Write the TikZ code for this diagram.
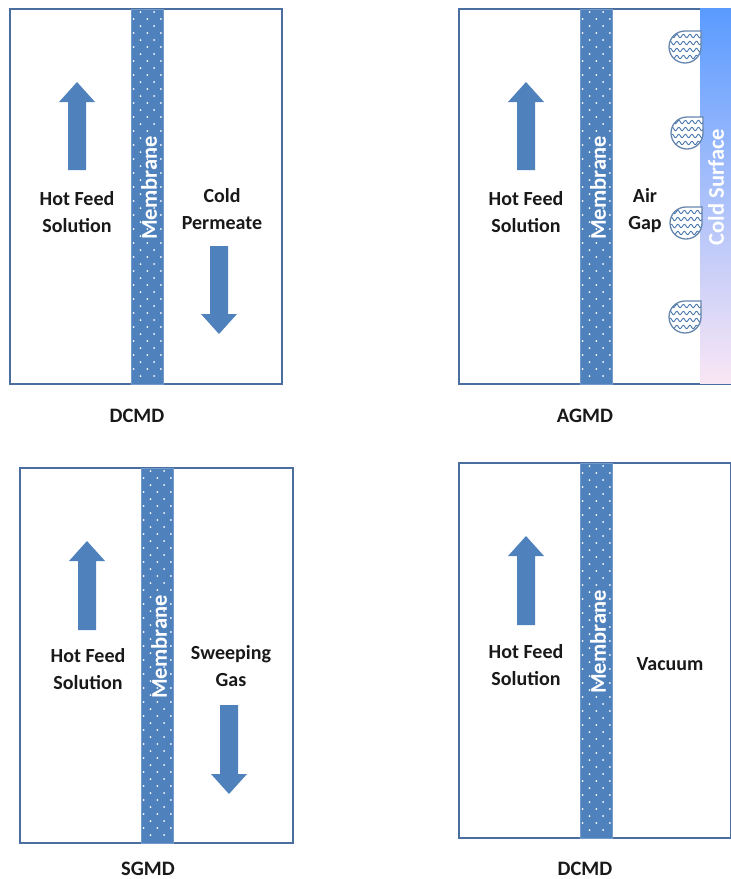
\documentclass[tikz,border=0pt]{standalone}
\usepackage{fontspec}
\setmainfont{Carlito}
\usetikzlibrary{arrows.meta}
\definecolor{memblue}{HTML}{4F81BD}
\definecolor{edgeblue}{HTML}{4A6F9E}
\definecolor{dropblue}{HTML}{4A78B0}
\tikzset{
  x=1pt,y=-1pt,
  panelbox/.style={draw=edgeblue,line width=1.3pt},
  membar/.style={fill=memblue,draw=memblue!80!white,line width=.6pt},
  lab/.style={inner sep=0pt,align=center,font=\fontsize{20}{27}\selectfont\bfseries,text=black!90},
  caption/.style={inner sep=0pt,font=\fontsize{20.5}{22}\selectfont\bfseries,text=black!90},
  memtext/.style={inner sep=0pt,rotate=90,text=white,font=\fontsize{22.5}{24}\selectfont\bfseries},
  flowarrow/.style={fill=memblue,draw=none},
}
% up arrow: x, tail y, tip y
\newcommand{\uparr}[3]{\fill[flowarrow] (#1-9,#2) -- (#1-9,#3+20) -- (#1-18,#3+20) -- (#1,#3) -- (#1+18,#3+20) -- (#1+9,#3+20) -- (#1+9,#2) -- cycle;}
% down arrow: x, tail y, tip y
\newcommand{\downarr}[3]{\fill[flowarrow] (#1-9,#2) -- (#1-9,#3-20) -- (#1-18,#3-20) -- (#1,#3) -- (#1+18,#3-20) -- (#1+9,#3-20) -- (#1+9,#2) -- cycle;}
% membrane: name, left x, top y
\newcommand{\membr}[3]{%
  \fill[membar] (#2,#3) rectangle (#2+32,#3+375);
  \foreach \r in {0,...,52}{%
    \pgfmathsetmacro{\yy}{#3+3+7*\r}
    \pgfmathtruncatemacro{\oddrow}{mod(\r,2)}
    \ifnum\oddrow=0
      \foreach \c in {9.5,23.2}{\fill[white] (#2+\c,\yy) circle[radius=1];}
    \else
      \foreach \c in {2.7,16.4,29.8}{\fill[white] (#2+\c,\yy) circle[radius=1];}
    \fi
  }
  \node[memtext] (#1) at (#2+18,#3+179) {Membrane};
}
% droplet: name, cx, cy
\newcommand{\dropl}[3]{%
  \begin{scope}
    \path[clip] (#2+16,#3-16) -- (#2+16,#3) arc[start angle=0,end angle=270,radius=16] -- cycle;
    \fill[white] (#2-17,#3-17) rectangle (#2+17,#3+17);
    \foreach \k in {-11,-4,3,10}{%
      \draw[dropblue,line width=.9pt] plot[domain=-18:18,samples=50,smooth] (#2+\x,{#3+\k+1.7*sin(\x*55)});
    }
  \end{scope}
  \draw[edgeblue!85!white,line width=1.3pt] (#2+16,#3-16) -- (#2+16,#3) arc[start angle=0,end angle=270,radius=16] -- cycle;
  \coordinate (#1) at (#2,#3);
}
\begin{document}
\begin{tikzpicture}
\useasboundingbox (0,0) rectangle (731,879);
% DCMD
\draw[panelbox] (10,9) rectangle (282,384);
\membr{m1}{131}{9}
\uparr{77}{170}{82}
\downarr{219}{246}{334}
\node[lab] (hot1) at (77,212) {Hot Feed\\Solution};
\node[lab] (cold1) at (222,209) {Cold\\Permeate};
\node[caption] (cap1) at (137,416) {DCMD};
% AGMD
\draw[panelbox] (459,9) rectangle (731,384);
\fill[top color={rgb,255:red,90;green,155;blue,255},bottom color={rgb,255:red,250;green,230;blue,245}] (700,8) rectangle (731,383.4);
\membr{m2}{580}{9}
\uparr{526}{170}{82}
\node[lab] (hot2) at (526,212) {Hot Feed\\Solution};
\node[lab] (air) at (645,211) {Air\\Gap};
\node[memtext] (surf) at (716,187) {Cold Surface};
\dropl{d1}{685}{47}
\dropl{d2}{687}{133}
\dropl{d3}{686}{223}
\dropl{d4}{685}{317}
\node[caption] (cap2) at (585,416) {AGMD};
% SGMD
\draw[panelbox] (20,468) rectangle (293,843);
\membr{m3}{141}{468}
\uparr{87}{630}{541}
\downarr{229}{705}{794}
\node[lab] (hot3) at (88,669.5) {Hot Feed\\Solution};
\node[lab] (gas) at (231,666.5) {Sweeping\\Gas};
\node[caption] (cap3) at (148,868.5) {SGMD};
% Vacuum
\draw[panelbox] (459,463) rectangle (731,838);
\membr{m4}{580}{463}
\uparr{526}{625}{536}
\node[lab] (hot4) at (526,665.5) {Hot Feed\\Solution};
\node[lab] (vac) at (670,664) {Vacuum};
\node[caption] (cap4) at (585,868.5) {DCMD};
\end{tikzpicture}
\end{document}
